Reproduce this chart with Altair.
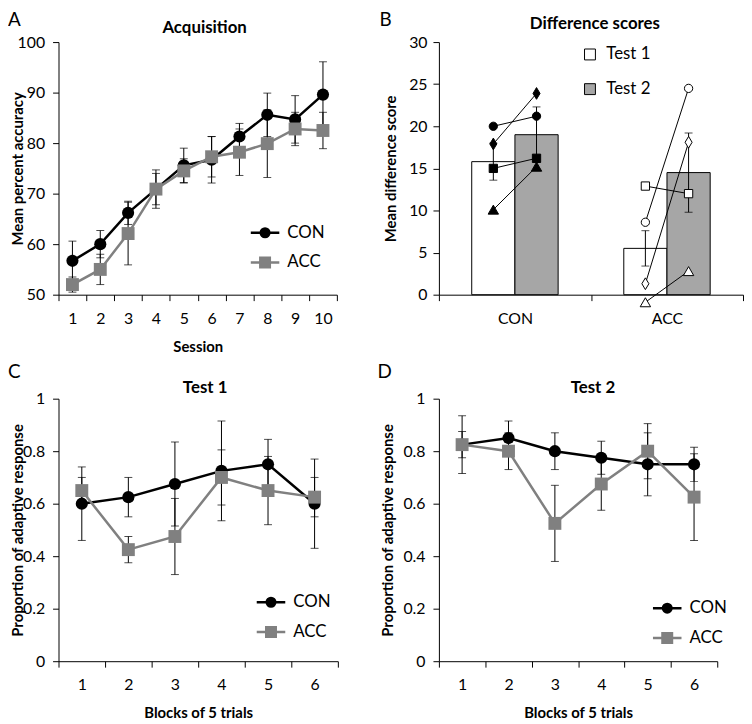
import altair as alt
import pandas as pd

FONT = "Lato"
BLACK = "#000000"
GREY = "#808080"
BAR_GREY = "#a6a6a6"

# ---------------- data ----------------
groups = ["CON", "ACC"]
group_colors = [BLACK, GREY]

# Panel A: Acquisition
sessions = [1, 2, 3, 4, 5, 6, 7, 8, 9, 10]
acq_con = [56.7, 60.0, 66.2, 70.9, 75.6, 76.7, 81.3, 85.6, 84.7, 89.6]
acq_con_err = [3.9, 2.7, 2.3, 3.8, 3.4, 4.6, 2.6, 4.3, 4.7, 6.5]
acq_acc = [52.0, 55.0, 62.1, 70.9, 74.5, 77.3, 78.2, 79.9, 82.8, 82.5]
acq_acc_err = [1.5, 3.0, 6.2, 3.1, 2.4, 4.0, 4.6, 6.7, 3.3, 3.6]

# Panel B: Difference scores
tests = ["Test 1", "Test 2"]
diff_con = [15.8, 19.0]
diff_con_err = [2.2, 3.3]
diff_acc = [5.5, 14.5]
diff_acc_err = [2.1, 4.7]
subject_shapes = ["circle", "diamond", "square", "triangle"]
subject_sizes = [70, 140, 70, 110]
con_test1 = [20.0, 17.9, 15.0, 10.1]
con_test2 = [21.2, 23.9, 16.2, 15.2]
acc_test1 = [8.6, 1.3, 12.9, -0.9]
acc_test2 = [24.5, 18.1, 12.0, 2.8]

# Panels C and D: proportion of adaptive response
blocks = [1, 2, 3, 4, 5, 6]
t1_con = [0.60, 0.625, 0.675, 0.725, 0.75, 0.60]
t1_con_err = [0.14, 0.075, 0.16, 0.19, 0.095, 0.17]
t1_acc = [0.65, 0.425, 0.475, 0.70, 0.65, 0.625]
t1_acc_err = [0.05, 0.05, 0.145, 0.105, 0.13, 0.075]
t2_con = [0.825, 0.85, 0.80, 0.775, 0.75, 0.75]
t2_con_err = [0.11, 0.065, 0.07, 0.063, 0.12, 0.065]
t2_acc = [0.825, 0.80, 0.525, 0.675, 0.80, 0.625]
t2_acc_err = [0.05, 0.07, 0.145, 0.10, 0.105, 0.165]


def series_frame(xs, con, con_err, acc, acc_err):
    rows = []
    for g, means, errs in (("CON", con, con_err), ("ACC", acc, acc_err)):
        for x, m, e in zip(xs, means, errs):
            rows.append({"x": x, "group": g, "mean": m, "lo": m - e, "hi": m + e})
    return pd.DataFrame(rows)


CIRCLE_LEG = "M-2.4,0H2.4M0.72,0A0.72,0.72,0,1,1,-0.72,0A0.72,0.72,0,1,1,0.72,0Z"
SQUARE_LEG = "M-2.4,0H2.4M-0.8,-0.8H0.8V0.8H-0.8Z"


def text_layer(label, lx, ly, size, weight="normal", align="left", baseline="top"):
    return alt.Chart(pd.DataFrame({"label": [label]})).mark_text(
        align=align, baseline=baseline, fontSize=size, font=FONT, color=BLACK, fontWeight=weight
    ).encode(text="label:N", x=alt.value(lx), y=alt.value(ly))


def line_panel(df, width, height, ydomain, yvalues, yformat, xtitle, ytitle,
               title, title_dx, title_base, letter, lxy, ytitle_x, leg_xy):
    xenc = alt.X("x:O", scale=alt.Scale(type="band", paddingInner=0, paddingOuter=0),
                 axis=alt.Axis(title=xtitle, tickBand="extent", labelAngle=0,
                               labelPadding=10, titleY=52, titleBaseline="middle"))
    yscale = alt.Scale(domain=ydomain, nice=False, zero=False)
    yaxis = alt.Axis(title=ytitle, values=yvalues, format=yformat, labelPadding=8,
                     titleX=ytitle_x, titleBaseline="middle")

    def Y(field):
        return alt.Y(field, scale=yscale, axis=yaxis)

    base = alt.Chart(df)
    layers = [
        base.mark_rule(color=BLACK, strokeWidth=1).encode(x=xenc, y=Y("lo:Q"), y2="hi:Q"),
        base.mark_tick(color=BLACK, thickness=1, size=8).encode(x=xenc, y=Y("lo:Q")),
        base.mark_tick(color=BLACK, thickness=1, size=8).encode(x=xenc, y=Y("hi:Q")),
    ]
    for g, col, shp, sz in (("CON", BLACK, "circle", 150), ("ACC", GREY, "square", 170)):
        sub = base.transform_filter(alt.datum.group == g)
        layers.append(sub.mark_line(color=col, strokeWidth=2.5).encode(x=xenc, y=Y("mean:Q")))
        layers.append(sub.mark_point(color=col, filled=True, opacity=1, shape=shp, size=sz)
                      .encode(x=xenc, y=Y("mean:Q")))
    leg = alt.Legend(orient="none", legendX=leg_xy[0], legendY=leg_xy[1], title=None,
                     labelFont=FONT, labelFontSize=17, labelColor=BLACK,
                     symbolSize=144, symbolStrokeWidth=2.5, labelOffset=14,
                     rowPadding=10, padding=0)
    layers.append(
        base.transform_filter("false").mark_point(opacity=1, size=144, strokeWidth=2.5).encode(
            shape=alt.Shape("group:N", scale=alt.Scale(domain=groups, range=[CIRCLE_LEG, SQUARE_LEG]), legend=leg),
            fill=alt.Fill("group:N", scale=alt.Scale(domain=groups, range=group_colors), legend=leg),
            stroke=alt.Stroke("group:N", scale=alt.Scale(domain=groups, range=group_colors), legend=leg),
        )
    )
    layers.append(text_layer(letter, lxy[0], lxy[1], 19))
    layers.append(text_layer(title, width / 2 + title_dx, title_base, 17, "bold", "center", "alphabetic"))
    return alt.layer(*layers).properties(width=width, height=height)


# ---------------- Panel A ----------------
dfA = series_frame(sessions, acq_con, acq_con_err, acq_acc, acq_acc_err)
panelA = line_panel(dfA, 281, 255, [50, 100], [50, 60, 70, 80, 90, 100], "d",
                    "Session", "Mean percent accuracy", "Acquisition", 7, -9,
                    "A", (-51, -31), -41, (200, 184))

# ---------------- Panel B ----------------
bar_rows = []
for g, means, errs in (("CON", diff_con, diff_con_err), ("ACC", diff_acc, diff_acc_err)):
    for t, m, e in zip(tests, means, errs):
        bar_rows.append({"group": g, "test": t, "mean": m, "lo": m - e, "hi": m + e})
dfB = pd.DataFrame(bar_rows)

subj_rows = []
for g, s1, s2 in (("CON", con_test1, con_test2), ("ACC", acc_test1, acc_test2)):
    for shp, a, b in zip(subject_shapes, s1, s2):
        subj_rows.append({"group": g, "subject": g + shp, "shape": shp, "test": "Test 1", "score": a})
        subj_rows.append({"group": g, "subject": g + shp, "shape": shp, "test": "Test 2", "score": b})
dfS = pd.DataFrame(subj_rows)

xB = alt.X("group:N", sort=groups, scale=alt.Scale(paddingInner=0, paddingOuter=0),
           axis=alt.Axis(title=None, tickBand="extent", labelAngle=0, labelPadding=10))
xoB = alt.XOffset("test:N", sort=tests, scale=alt.Scale(domain=tests, paddingInner=0, paddingOuter=0.76))
yscaleB = alt.Scale(domain=[0, 30], nice=False)
yaxisB = alt.Axis(title="Mean difference score", values=[0, 5, 10, 15, 20, 25, 30],
                  labelPadding=6, titleX=-49, titleBaseline="middle")


def YB(field):
    return alt.Y(field, scale=yscaleB, axis=yaxisB)


DIAMOND = "M0,-1L0.6,0L0,1L-0.6,0Z"
bars = alt.Chart(dfB).mark_bar(stroke=BLACK, strokeWidth=1, opacity=1).encode(
    x=xB, xOffset=xoB, y=YB("mean:Q"),
    fill=alt.Fill("test:N", scale=alt.Scale(domain=tests, range=["white", BAR_GREY]),
                  legend=alt.Legend(orient="none", legendX=144, legendY=4, title=None,
                                    symbolType="square", symbolSize=121,
                                    symbolStrokeColor=BLACK, symbolStrokeWidth=1,
                                    labelFont=FONT, labelFontSize=17, labelColor=BLACK,
                                    labelOffset=8, rowPadding=17, padding=0)),
)
errB = alt.Chart(dfB).mark_rule(color=BLACK, strokeWidth=1).encode(
    x=xB, xOffset=xoB, y=YB("lo:Q"), y2="hi:Q")
capB_lo = alt.Chart(dfB).mark_tick(color=BLACK, thickness=1, size=8).encode(
    x=xB, xOffset=xoB, y=YB("lo:Q"))
capB_hi = alt.Chart(dfB).mark_tick(color=BLACK, thickness=1, size=8).encode(
    x=xB, xOffset=xoB, y=YB("hi:Q"))
subj_lines = alt.Chart(dfS).mark_line(color=BLACK, strokeWidth=1).encode(
    x=xB, xOffset=xoB, y=YB("score:Q"), detail="subject:N")
subj_points = alt.Chart(dfS).mark_point(opacity=1, stroke=BLACK, strokeWidth=1).encode(
    x=xB, xOffset=xoB, y=YB("score:Q"),
    shape=alt.Shape("shape:N", scale=alt.Scale(domain=subject_shapes,
                                               range=["circle", DIAMOND, "square", "triangle-up"]),
                    legend=None),
    size=alt.Size("shape:N", scale=alt.Scale(type="ordinal", domain=subject_shapes, range=subject_sizes),
                  legend=None),
    fill=alt.Fill("group:N", scale=alt.Scale(domain=groups, range=[BLACK, "white"]), legend=None),
)
panelB = alt.layer(bars, errB, capB_lo, capB_hi, subj_lines, subj_points,
                   text_layer("B", -60, -31, 19),
                   text_layer("Difference scores", 307 / 2 + 4, -13, 17, "bold", "center", "alphabetic"),
                   ).resolve_scale(fill="independent").properties(width=307, height=255)

# ---------------- Panels C, D ----------------
dfC = series_frame(blocks, t1_con, t1_con_err, t1_acc, t1_acc_err)
dfD = series_frame(blocks, t2_con, t2_con_err, t2_acc, t2_acc_err)
pvals = [0, 0.2, 0.4, 0.6, 0.8, 1]
panelC = line_panel(dfC, 282, 265, [0, 1], pvals, "~g", "Blocks of 5 trials",
                    "Proportion of adaptive response", "Test 1", 7, -6,
                    "C", (-51, -36), -41, (206, 197))
panelD = line_panel(dfD, 281, 265, [0, 1], pvals, "~g", "Blocks of 5 trials",
                    "Proportion of adaptive response", "Test 2", 15, -6,
                    "D", (-62, -36), -52, (222, 203))

chart = alt.concat(panelA, panelB, panelC, panelD, columns=2, bounds="flush", align="none",
                   spacing={"row": 105, "column": 102}).resolve_scale(
    color="independent", fill="independent", stroke="independent",
    shape="independent", size="independent",
).properties(padding=0).configure_axis(
    domainColor=BLACK, domainWidth=1, tickColor=BLACK, tickWidth=1, tickSize=6,
    labelColor=BLACK, labelFont=FONT, labelFontSize=16,
    titleFont=FONT, titleFontSize=15, titleFontWeight="bold", titleColor=BLACK, grid=False,
).configure_view(stroke=None)

chart.save("out.html", embed_options={"renderer": "svg", "actions": False})
